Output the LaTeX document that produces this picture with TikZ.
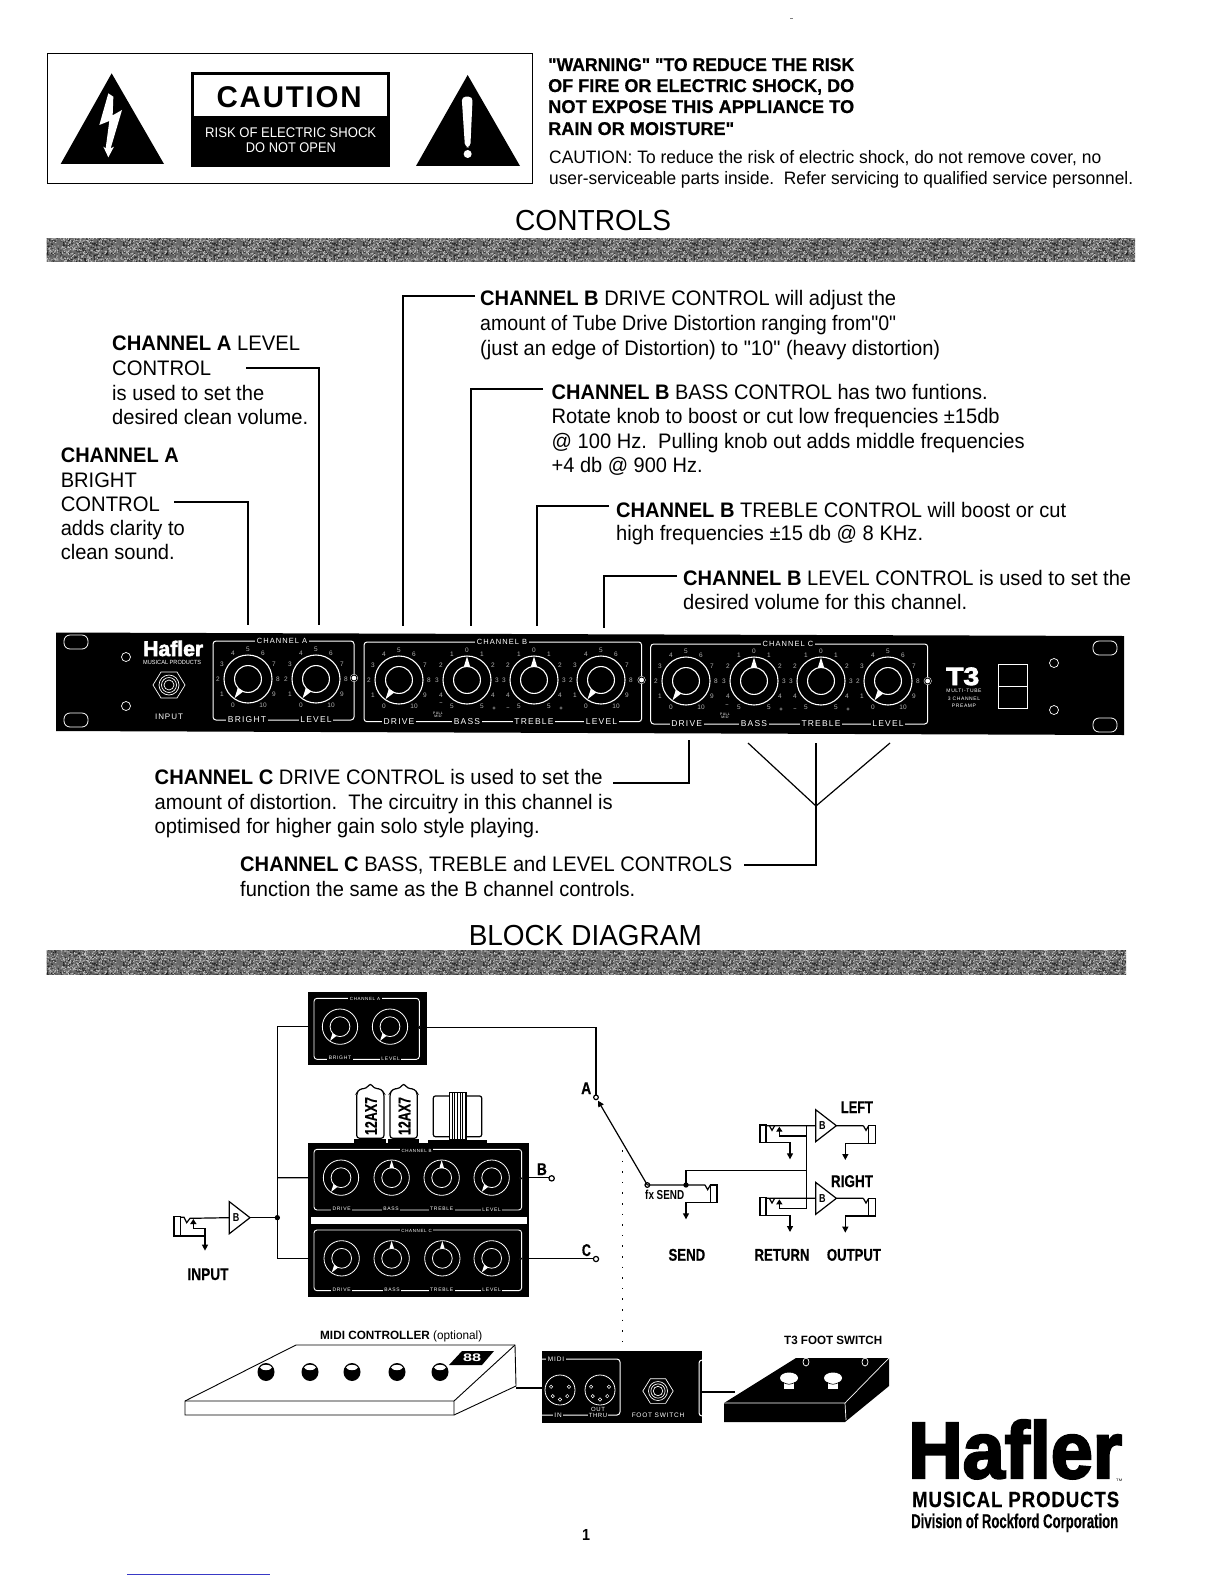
\documentclass[tikz,border=0pt]{standalone}
\usepackage{graphicx}
\usepackage{fontspec}
\defaultfontfeatures[\rmfamily,\sffamily]{}
\setmainfont{Liberation Sans}
\newfontfamily\heavyf[UprightFont=* Bold,FakeBold=3]{Liberation Sans}
\newfontfamily\semif[UprightFont=* Bold,FakeBold=0.5]{Liberation Sans}
\usetikzlibrary{calc,arrows.meta,patterns}
\pgfmathsetseed{7}
\pgfdeclarepatterninherentlycolored{scannoise}{\pgfpointorigin}{\pgfpoint{60pt}{60pt}}{\pgfpoint{60pt}{60pt}}{%
 \pgfsetfillcolor{black!58}\pgfpathrectangle{\pgfpointorigin}{\pgfpoint{60pt}{60pt}}\pgfusepath{fill}%
 \pgfsetfillcolor{black!85}%
 \foreach \i in {1,...,900}{\pgfmathsetmacro\rx{rnd*59}\pgfmathsetmacro\ry{rnd*59}\pgfpathrectangle{\pgfpoint{\rx pt}{\ry pt}}{\pgfpoint{1pt}{1pt}}}%
 \pgfusepath{fill}%
 \pgfsetfillcolor{black!25}%
 \foreach \i in {1,...,800}{\pgfmathsetmacro\rx{rnd*59}\pgfmathsetmacro\ry{rnd*59}\pgfpathrectangle{\pgfpoint{\rx pt}{\ry pt}}{\pgfpoint{1pt}{1pt}}}%
 \pgfusepath{fill}%
}
\newcommand\fz[1]{\fontsize{#1}{#1}\selectfont}
\newcounter{tl}
\newcommand\txtl[5]{\stepcounter{tl}\node[anchor=base west,inner sep=0pt] (t\thetl) at (#1,#2) {\resizebox{#3pt}{\height}{\fz{#4}#5}};}
\newcommand\lblw[4]{\stepcounter{tl}\node[fill=black,text=white,inner sep=1.5pt] (t\thetl) at (#1,#2) {\fz{#3}\addfontfeature{LetterSpace=14}#4};}
\newcommand\txtw[4]{\stepcounter{tl}\node[text=white,inner sep=0pt,align=center,font={\fz{#3}\addfontfeature{LetterSpace=12}}] (t\thetl) at (#1,#2) {#4};}
\newcommand\knobk[5]{%
 \draw[white,line width=#5pt] (#1,#2) circle (#3);
 \draw[white,line width=#5pt] (#1,#2) circle ({0.56*#3});
 \fill[white] ($(#1,#2)+(#4:{0.98*#3})$) -- ($(#1,#2)+({#4+14}:{0.56*#3})$) -- ($(#1,#2)+({#4-14}:{0.56*#3})$) -- cycle;}
\newcommand\scalek[3]{\foreach \t [count=\c] in #3 {\pgfmathsetmacro\a{90+\c*30}\stepcounter{tl}\node[text=white!70!black,inner sep=0pt] (t\thetl) at ($(#1,#2)+(\a:30)$) {\fz{6.5}\t};}}
\newcommand\slotk[2]{\draw[white,line width=.8pt,rounded corners=6pt] (#1,#2) rectangle ++(24,14);}
\newcommand\hexk[3]{\draw[white,line width=.7pt] ($(#1,#2)+(-16*#3,0)$) -- ++(8*#3,-13*#3) -- ++(16*#3,0) -- ++(8*#3,13*#3) -- ++(-8*#3,13*#3) -- ++(-16*#3,0) -- cycle;
 \foreach \r in {10,7.5,5}{\draw[white,line width=.7pt] (#1,#2) circle ({\r*#3});}}
\newcommand\jackw[2]{\fill[white] (#1,#2) circle (4);\draw[black,line width=.9pt] (#1,#2) circle (3);}
\newcommand\retjack[3]{%
 \draw[linek] (#1,{#2-2}) rectangle ++(18,53);
 \draw[linek] ({#1+18},#2) -- ++(10,0) -- ++(8,14) -- ++(8,-14);
 \draw[linek] ({#1+18},{#2+51}) -- ++(72,0) -- ++(0,50)[tipk];
 \draw[linek,tipu] ({#1+58},{#2+31}) -- ++(0,-28);
 \draw[linek] ({#1+58},{#2+31}) -| ({#1+#3},{#2+31});}
\newcommand\outjack[3]{%
 \draw[linek] (#1,#2) -- ++(8,14) -- ++(8,-14);
 \draw[linek] ({#1+16},{#2}) rectangle ++(20,53);
 \draw[linek,tipk] ({#1+16},{#2+53}) -| (#3,{#2+103});}
\newcommand\ampb[3]{\draw[linek,fill=white] (#2,{#3-48}) -- ++(62,48) -- ++(-62,48) -- cycle;
 \coordinate (#1in) at (#2,#3);\coordinate (#1out) at ({#2+62},#3);
 \node[inner sep=0pt] (#1lab) at ({#2+20},#3) {\resizebox{6.5pt}{\height}{\bfseries\fz{11.5}B}};}
\newcommand\pedal[2]{\fill[black] (#1,#2) ellipse (8.5 and 9);\fill[white] (#1,{#2-4.5}) ellipse (5.8 and 2.6);}
\newcommand\tube[1]{\draw[linek,fill=white,rounded corners=3pt] (#1,475) -- (#1,340) -- ({#1+8},327) -- ({#1+30},325) -- ({#1+41},309) -- ({#1+52},325) -- ({#1+74},327) -- ({#1+82},340) -- ({#1+82},475) -- cycle;
 \fill[black] ({#1-7},478) rectangle ({#1+88},490);
 \stepcounter{tl}\node[rotate=90,inner sep=0pt] (t\thetl) at ({#1+43},408) {\resizebox{38pt}{\height}{\semif\fz{17}12AX7}};}
\tikzset{
 linek/.style={black,line width=1.2pt},
 framew/.style={white,line width=1pt,rounded corners=3pt},
 tipk/.style={-{Triangle[length=6pt,width=6pt]}},
 tipu/.style={-{Triangle[length=5pt,width=6pt]}},
 conn/.style={black,line width=1.2pt}
}
\begin{document}
\begin{tikzpicture}[x=1pt,y=-1pt]
\useasboundingbox (0,0) rectangle (1224,1584);
\fill[white] (0,0) rectangle (1224,1584);
\draw[gray,line width=.8pt] (790,18) -- (793,18);
\draw[blue!55!gray,line width=.8pt] (127,1574) -- (270,1574);
% ---- caution box
\begin{scope}[shift={(40,40)},scale=1/3]
\draw[black,line width=1.3pt] (22,40) rectangle (1478,430);
\fill[black] (215,100) -- (372,372) -- (62,372) -- cycle;
\fill[white] (205,160) -- (178,255) -- (208,243) -- (197,325) -- (190,320) -- (205,352) -- (222,320) -- (212,325) -- (246,210) -- (218,226) -- (220,170) -- cycle;
\fill[black] (453,97) rectangle (1050,380);
\fill[white] (462,105) rectangle (1042,228);
\fill[black] (1283,105) -- (1440,378) -- (1128,378) -- cycle;
\fill[white,rounded corners=4pt] (1265,170) -- (1298,170) -- (1291,322) -- (1275,322) -- cycle;
\fill[white] (1283,342) circle (12);
\end{scope}
\txtl{216.5}{108}{145}{30}{\bfseries\addfontfeature{LetterSpace=6}CAUTION}
\stepcounter{tl}\node[anchor=base west,inner sep=0pt,text=white] (t\thetl) at (205,137) {\resizebox{171pt}{\height}{\fz{14}RISK OF ELECTRIC SHOCK}};
\stepcounter{tl}\node[anchor=base west,inner sep=0pt,text=white] (t\thetl) at (245.7,153) {\resizebox{90pt}{\height}{\fz{14}DO NOT OPEN}};
% ---- warning
\txtl{548}{71}{306}{18.5}{\semif "WARNING" "TO REDUCE THE RISK}
\txtl{548}{92}{306}{18.5}{\semif OF FIRE OR ELECTRIC SHOCK, DO}
\txtl{548}{113}{306}{18.5}{\semif NOT EXPOSE THIS APPLIANCE TO}
\txtl{548}{135}{186}{18.5}{\semif RAIN OR MOISTURE"}
\txtl{549}{164}{552}{18}{CAUTION: To reduce the risk of electric shock, do not remove cover, no}
\txtl{549}{184}{584}{18}{user-serviceable parts inside.\ \ Refer servicing to qualified service personnel.}
% ---- controls
\txtl{515}{230}{156}{29}{CONTROLS}
\fill[pattern=scannoise] (46.5,238) rectangle (1135,261);
% left texts
\txtl{112}{350.5}{188}{21}{{\bfseries CHANNEL A} LEVEL}
\txtl{112}{375.5}{99}{21}{CONTROL}
\txtl{112}{400}{152}{21}{is used to set the}
\txtl{112}{424}{196}{21}{desired clean volume.}
\txtl{60.6}{462.5}{118}{21}{\bfseries CHANNEL A}
\txtl{60.6}{487}{76}{21}{BRIGHT}
\txtl{60.6}{511}{99}{21}{CONTROL}
\txtl{60.6}{535}{124}{21}{adds clarity to}
\txtl{60.6}{559.5}{114}{21}{clean sound.}
% right texts
\txtl{480}{305}{416}{21}{{\bfseries CHANNEL B} DRIVE CONTROL will adjust the}
\txtl{480}{330}{416}{21}{amount of Tube Drive Distortion ranging from"0"}
\txtl{480}{355.5}{460}{21}{(just an edge of Distortion) to "10" (heavy distortion)}
\txtl{551.5}{399}{436}{21}{{\bfseries CHANNEL B} BASS CONTROL has two funtions.}
\txtl{551.5}{423}{448}{21}{Rotate knob to boost or cut low frequencies ±15db}
\txtl{551.5}{448}{473}{21}{@ 100 Hz.\ \ Pulling knob out adds middle frequencies}
\txtl{551.5}{472}{151}{21}{+4 db @ 900 Hz.}
\txtl{616}{517}{450}{21}{{\bfseries CHANNEL B} TREBLE CONTROL will boost or cut}
\txtl{616}{540}{307}{21}{high frequencies ±15 db @ 8 KHz.}
\txtl{683}{585}{448}{21}{{\bfseries CHANNEL B} LEVEL CONTROL is used to set the}
\txtl{683}{609}{284}{21}{desired volume for this channel.}
% below panel texts
\txtl{154.5}{784}{448}{21}{{\bfseries CHANNEL C} DRIVE CONTROL is used to set the}
\txtl{154.5}{809}{458}{21}{amount of distortion.\ \ The circuitry in this channel is}
\txtl{154.5}{833}{385}{21}{optimised for higher gain solo style playing.}
\txtl{240}{871.5}{492}{21}{{\bfseries CHANNEL C} BASS, TREBLE and LEVEL CONTROLS}
\txtl{240}{896}{395}{21}{function the same as the B channel controls.}
% ---- front panel
\fill[black] (56,632.5) -- (1124,636) -- (1124,735) -- (56,731) -- cycle;
\slotk{64}{635}\slotk{64}{713}\slotk{1093}{641}\slotk{1093}{718}
\draw[white,line width=.7pt] (126,657) circle (4.5) (126,706) circle (4.5) (1054,663) circle (4.5) (1054,710) circle (4.5);
\stepcounter{tl}\node[anchor=base west,inner sep=0pt,text=white] (t\thetl) at (143,656) {\resizebox{60pt}{\height}{\heavyf\fz{21}Hafler}};
\stepcounter{tl}\node[anchor=base west,inner sep=0pt,text=white] (t\thetl) at (143,664) {\resizebox{58pt}{\height}{\fz{6}MUSICAL PRODUCTS}};
\hexk{169}{685}{1}
\txtw{169}{717}{8}{INPUT}
\draw[framew] (213,641) rectangle (354,720);
\draw[framew] (364,642) rectangle (641.6,721.7);
\draw[framew] (650.7,644) rectangle (927.7,724);
\def\numA{0,1,2,3,4,5,6,7,8,9,10}
\def\numB{5,4,3,2,1,0,1,2,3,4,5}
\knobk{248}{679}{24}{125}{1.1}\scalek{248}{679}{\numA}
\knobk{316}{679}{24}{125}{1.1}\scalek{316}{679}{\numA}
\knobk{399}{680}{24}{125}{1.1}\scalek{399}{680}{\numA}
\knobk{467}{680}{24}{270}{1.1}\scalek{467}{680}{\numB}
\knobk{534}{680}{24}{270}{1.1}\scalek{534}{680}{\numB}
\knobk{601}{680}{24}{125}{1.1}\scalek{601}{680}{\numA}
\knobk{686}{681}{24}{125}{1.1}\scalek{686}{681}{\numA}
\knobk{754}{681}{24}{270}{1.1}\scalek{754}{681}{\numB}
\knobk{821}{681}{24}{270}{1.1}\scalek{821}{681}{\numB}
\knobk{888}{681}{24}{125}{1.1}\scalek{888}{681}{\numA}
\txtw{441}{704}{5}{–}\txtw{494}{709}{6}{+}\txtw{508}{709}{5}{–}\txtw{561}{709}{6}{+}
\txtw{727}{706}{5}{–}\txtw{781}{710}{6}{+}\txtw{795}{710}{5}{–}\txtw{848}{710}{6}{+}
\lblw{282}{641}{7.5}{CHANNEL A}\lblw{502}{642}{7.5}{CHANNEL B}\lblw{788}{644}{7.5}{CHANNEL C}
\lblw{247}{720}{8.5}{BRIGHT}\lblw{316}{720}{8.5}{LEVEL}
\lblw{399}{721.7}{8.5}{DRIVE}\lblw{467}{721.7}{8.5}{BASS}\lblw{534}{721.7}{8.5}{TREBLE}\lblw{601.5}{721.7}{8.5}{LEVEL}
\lblw{686.7}{724}{8.5}{DRIVE}\lblw{754}{724}{8.5}{BASS}\lblw{821}{724}{8.5}{TREBLE}\lblw{888}{724}{8.5}{LEVEL}
\txtw{438}{715}{3.4}{PULL\\[-1pt]MID}\txtw{725}{716}{3.4}{PULL\\[-1pt]MID}
\jackw{354}{678}\jackw{641.6}{680}\jackw{927.7}{681}
\stepcounter{tl}\node[anchor=base west,inner sep=0pt,text=white] (t\thetl) at (946,685) {\resizebox{33pt}{\height}{\heavyf\fz{25}T3}};
\txtw{964}{691}{5}{MULTI-TUBE}\txtw{964}{699}{5}{3 CHANNEL}\txtw{964}{706}{5}{PREAMP}
\draw[white,line width=1pt] (998,664) rectangle (1027,708) (998,686) -- (1027,686);
% ---- control connectors
\coordinate (ca1) at (246,368);\coordinate (ca2) at (319,625);
\coordinate (cb1) at (174,502);\coordinate (cb2) at (248,625);
\coordinate (cc1) at (475,296);\coordinate (cc2) at (403,626);
\coordinate (cd1) at (543,389);\coordinate (cd2) at (471,626);
\coordinate (ce1) at (609,506);\coordinate (ce2) at (537,626);
\coordinate (cf1) at (677,576);\coordinate (cf2) at (604,628);
\coordinate (cg1) at (613,783);\coordinate (cg2) at (689,740);
\coordinate (ch1) at (744,865);\coordinate (hub) at (816,806);
\coordinate (h1) at (748,743);\coordinate (h2) at (816,743);\coordinate (h3) at (890,743);
\draw[conn] (ca1) -| (ca2);\draw[conn] (cb1) -| (cb2);
\draw[conn] (cc1) -| (cc2);\draw[conn] (cd1) -| (cd2);
\draw[conn] (ce1) -| (ce2);\draw[conn] (cf1) -| (cf2);
\draw[conn] (cg1) -| (cg2);\draw[conn] (ch1) -| (hub);
\draw[conn] (h1) -- (hub);\draw[conn] (h2) -- (hub);\draw[conn] (h3) -- (hub);
% ---- block diagram title
\txtl{468.6}{945}{233}{29}{BLOCK DIAGRAM}
\fill[pattern=scannoise] (46.5,950.5) rectangle (1126,974.5);
% ---- channels, in zoom px
\begin{scope}[shift={(160,980)},scale=1/3]
\fill[black] (445,37) rectangle (802,255);
\draw[framew,line width=.9pt] (462,55) rectangle (778,238);
\knobk{540}{140}{53}{125}{.8}\knobk{690}{140}{53}{125}{.8}
\lblw{615}{58}{4.5}{CHANNEL A}\lblw{540}{233}{5}{BRIGHT}\lblw{692}{235}{5}{LEVEL}
\jackw{778}{142}
\tube{590}\tube{690}
\draw[linek,rounded corners=2pt] (820,348) rectangle (965,470);
\draw[linek,fill=white] (868,338) rectangle (918,480);
\foreach \xs in {876,884,892,900,908}{\draw[black,line width=1pt] (\xs,338) -- (\xs,480);}
\fill[black] (805,480) rectangle (980,490);
\fill[black] (445,490) rectangle (1107,950);
\fill[white] (452,711) rectangle (1100,731);
\draw[framew,line width=.9pt] (462,508) rectangle (1085,690);
\draw[framew,line width=.9pt] (462,750) rectangle (1085,932);
\knobk{543}{593}{53}{125}{.8}\knobk{695}{593}{53}{270}{.8}\knobk{845}{593}{53}{270}{.8}\knobk{995}{593}{53}{125}{.8}
\knobk{545}{835}{53}{125}{.8}\knobk{695}{835}{53}{270}{.8}\knobk{847}{835}{53}{270}{.8}\knobk{995}{835}{53}{125}{.8}
\lblw{770}{512}{4.5}{CHANNEL B}\lblw{770}{752}{4.5}{CHANNEL C}
\lblw{545}{686}{5}{DRIVE}\lblw{693}{686}{5}{BASS}\lblw{845}{686}{5}{TREBLE}\lblw{995}{688}{5}{LEVEL}
\lblw{545}{928}{5}{DRIVE}\lblw{696}{928}{5}{BASS}\lblw{845}{928}{5}{TREBLE}\lblw{995}{930}{5}{LEVEL}
\jackw{1082}{595}\jackw{1082}{836}
\coordinate (pAin) at (445,140);\coordinate (pBin) at (445,593);\coordinate (pCin) at (445,835);
\coordinate (pAout) at (802,143);\coordinate (pBout) at (1107,593);\coordinate (pCout) at (1107,835);
\coordinate (bus) at (352,713);\coordinate (Bend) at (1167,593);\coordinate (Aend) at (1308,345);\coordinate (Cend) at (1300,835);
\ampb{inamp}{208}{713}
\draw[linek] (inampout) -- (bus);
\draw[linek] (pAin) -| (bus);\draw[linek] (bus) |- (pCin);\draw[linek] (pBin) -- (352,593);
\fill[black] (bus) circle (8);
\draw[linek] (pAout) -| (Aend);
\draw[linek] (pBout) -- (Bend);\draw[linek] (1175,595) circle (8);
\draw[linek] (pCout) -- (Cend);
\draw[linek] (42,710) rectangle (62,768);
\draw[linek] (62,712) -- (72,712) -- (80,728) -- (90,715) -- (inampin);
\draw[linek,tipu] (100,745) -- (100,717);
\draw[linek] (100,745) -- (135,745) -- (135,768);
\draw[linek,tipk] (62,768) -| (135,812);
\end{scope}
% ---- effects, in zoom px
\begin{scope}[shift={(570,1060)},scale=1/3]
\draw[linek] (78,112) circle (7);
\draw[linek,fill=white] (232,375) circle (7);
\coordinate (sw) at (232,375);\coordinate (swtip) at (84,122);
\draw[linek,tipk] (sw) -- (swtip);
\coordinate (sdot) at (348,375);
\draw[linek] (sw) -- (sdot) -- (405,375);
\fill[black] (sdot) circle (8);
\outjack{405}{375}{348}
\draw[linek] (sdot) |- (710,332);
\draw[linek] (710,197) -- (710,448);
\retjack{570}{197}{140}
\retjack{570}{415}{140}
\ampb{lamp}{737}{197}\ampb{ramp}{737}{415}
\draw[linek] (600,197) -- (lampin);\draw[linek] (600,415) -- (rampin);
\draw[linek] (lampout) -- (880,197);\draw[linek] (rampout) -- (880,415);
\outjack{880}{197}{826}\outjack{880}{415}{826}
\draw[black,line width=1.5pt,dash pattern=on 1.5pt off 9.1pt] (158,270) -- (158,870);
\end{scope}
\txtl{187.3}{1280}{41}{17}{\semif INPUT}
\txtl{581}{1094}{10}{17}{\semif A}
\txtl{536.7}{1175}{10}{17}{\semif B}
\txtl{581.7}{1256}{9}{17}{\semif C}
\txtl{645}{1199}{39}{13}{\bfseries fx SEND}
\txtl{840.7}{1113}{32}{17}{\semif LEFT}
\txtl{830.7}{1187}{42}{17}{\semif RIGHT}
\txtl{668.3}{1260.7}{36.7}{17}{\semif SEND}
\txtl{754.3}{1260.7}{55}{17}{\semif RETURN}
\txtl{826.7}{1260.7}{54}{17}{\semif OUTPUT}
\draw[linek] (596,1259) circle (2.6);
% ---- MIDI controller
\txtl{320}{1339}{162}{12}{{\bfseries MIDI CONTROLLER} (optional)}
\draw[black,line width=.9pt] (185,1401) -- (296,1345) -- (515,1345) -- (516,1386) -- (454,1415) -- (185,1415) -- cycle;
\draw[black,line width=.9pt] (185,1401) -- (454,1401) -- (515,1345) (454,1401) -- (454,1415);
\foreach \px in {266,310,352,397,440}{\pedal{\px}{1372}}
\fill[black] (449,1365) -- (462,1351) -- (494,1351) -- (482,1365) -- cycle;
\stepcounter{tl}\node[text=white,inner sep=0pt] (t\thetl) at (472,1358) {\resizebox{18pt}{\height}{\bfseries\fz{11}88}};
% ---- rear panel
\fill[black] (542,1351) rectangle (702,1423);
\draw[framew] (542,1359) -- (620,1359) -- (620,1415) -- (542,1415);
\lblw{556}{1359}{6.5}{MIDI}\lblw{558}{1415}{6.5}{IN}
\stepcounter{tl}\node[fill=black,text=white,inner sep=1pt,align=center,font={\fz{6}\addfontfeature{LetterSpace=10}}] (t\thetl) at (598,1412) {OUT\\THRU};
\foreach \dx in {560,600}{\draw[white,line width=.8pt] (\dx,1390) circle (15);
 \foreach \aa in {200,140,90,40,-20}{\draw[white,line width=.5pt] ($(\dx,1390)+(\aa:9.5)$) circle (1.7);}}
\hexk{658}{1391}{.95}
\txtw{658}{1415}{6.5}{FOOT SWITCH}
\draw[framew] (702,1360) -- (699,1360) -- (699,1416) -- (702,1416);
\coordinate (mc) at (516,1388);\coordinate (rp) at (542,1388);\draw[linek] (mc) -- (rp);
\coordinate (rp2) at (702,1392);\coordinate (fs) at (735,1392);\draw[linek] (rp2) -- (fs);
% ---- foot switch
\txtl{784}{1344}{98}{12}{\bfseries T3 FOOT SWITCH}
\fill[black] (796,1358) -- (889,1358) -- (889,1386) -- (845,1422) -- (724,1422) -- (724,1403) -- cycle;
\draw[white,line width=.7pt] (724,1403) -- (845,1403) -- (889,1358) (845,1403) -- (846,1420);
\foreach \bx in {789,833}{\fill[white] (\bx,1378) ellipse (9 and 5.5);\fill[white] ({\bx-5},1380) rectangle ({\bx+5},1389);\draw[black,line width=.6pt] ({\bx-7},1382) .. controls (\bx,1385) .. ({\bx+7},1382);}
\foreach \lx in {806,865}{\draw[white,line width=.7pt] (\lx,1362) ellipse (3 and 4);}
% ---- logo
\txtl{908}{1478}{214}{80}{\heavyf Hafler}
\txtl{1116}{1481}{6}{3.5}{TM}
\txtl{912}{1507}{207}{22}{\semif\addfontfeature{LetterSpace=5}MUSICAL PRODUCTS}
\txtl{911}{1528}{207}{20}{\semif Division of Rockford Corporation}
\txtl{582}{1540}{8}{16}{\bfseries 1}
\end{tikzpicture}
\end{document}
